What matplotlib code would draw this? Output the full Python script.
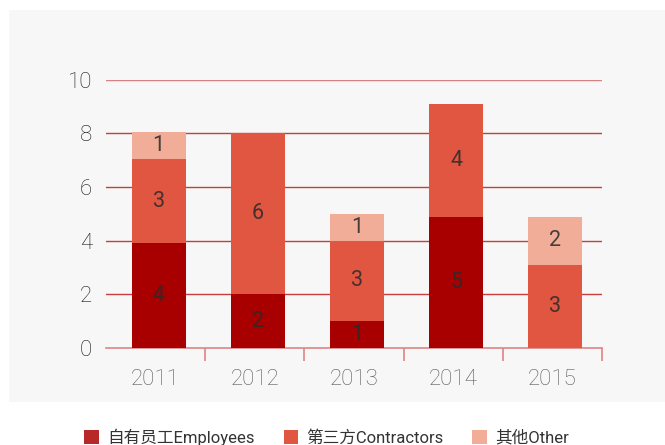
import numpy as np
import matplotlib
matplotlib.use("Agg")
from matplotlib import pyplot as plt
from matplotlib.patches import Rectangle, Patch

plt.rcParams['font.family'] = ['Roboto', 'Noto Sans CJK SC', 'DejaVu Sans']

# data (heights, labels shown rounded)
years = ['2011', '2012', '2013', '2014', '2015']
employees = [3.9, 2.0, 1.0, 4.9, 0.0]
contractors = [3.15, 6.0, 3.0, 4.2, 3.1]
other = [1.0, 0.0, 1.0, 0.0, 1.8]
series_names = ['自有员工Employees', '第三方Contractors', '其他Other']

colors = ['#a80000', '#e05640', '#f2ad98']
legend_colors = ['#b82828', '#e05640', '#f2ad98']

fig = plt.figure(figsize=(6.65, 4.45), dpi=100)
fig.patch.set_facecolor('white')
# grey panel behind the plot
fig.patches.append(Rectangle((9/665, 43/445), 1 - 9/665, (402-10)/445,
                             transform=fig.transFigure, facecolor='#f7f7f7',
                             edgecolor='none', zorder=-10))

ax = fig.add_axes([106/665, 97/445, 496/665, 268.3/445])
ax.set_facecolor('none')

x = np.arange(len(years))
xb = x + 0.03  # bars sit a touch right of the category centre
w = 0.545
bottom = np.zeros(len(years))
for vals, c in zip([employees, contractors, other], colors):
    vals = np.array(vals)
    ax.bar(xb, vals, w, bottom=bottom, color=c, edgecolor='none', zorder=3)
    for xi, b, v in zip(xb, bottom, vals):
        if v > 0:
            ax.text(xi, b + v / 2, '%.0f' % v, ha='center', va='center',
                    fontsize=15.5, color='#2a2a2a', alpha=0.85, zorder=4)
    bottom = bottom + vals

ax.set_xlim(-0.5, 4.5)
ax.set_ylim(0, 10)
ax.set_yticks(range(0, 11, 2))
for yv in range(2, 11, 2):
    ax.axhline(yv, color='#c83c3c' if yv < 10 else '#d98080', lw=1, zorder=1)

for s in ['top', 'right', 'left']:
    ax.spines[s].set_visible(False)
ax.spines['bottom'].set_color('#dd8484')
ax.spines['bottom'].set_linewidth(1.2)

ax.set_xticks(x)
ax.set_xticklabels(years)
ax.set_xticks(np.arange(0.5, 5, 1), minor=True)
ax.tick_params(axis='x', which='major', length=0, pad=15, labelsize=16,
               labelcolor='#5a5a5a')
ax.tick_params(axis='x', which='minor', length=9.5, width=1.2, color='#dd8484',
               direction='out')
ax.tick_params(axis='y', length=0, pad=10, labelsize=16, labelcolor='#1a1a1a')
for lab in ax.get_xticklabels() + ax.get_yticklabels():
    lab.set_fontweight('light')

handles = [Patch(facecolor=c, edgecolor='none') for c in legend_colors]
leg = fig.legend(handles, series_names, loc='center', bbox_to_anchor=(0.491, 8/445),
                 ncol=3, frameon=False, fontsize=12, handlelength=0.85,
                 handleheight=0.85, handletextpad=0.5, columnspacing=1.75,
                 labelcolor='#333333')

fig.savefig('out.png', dpi=100)
